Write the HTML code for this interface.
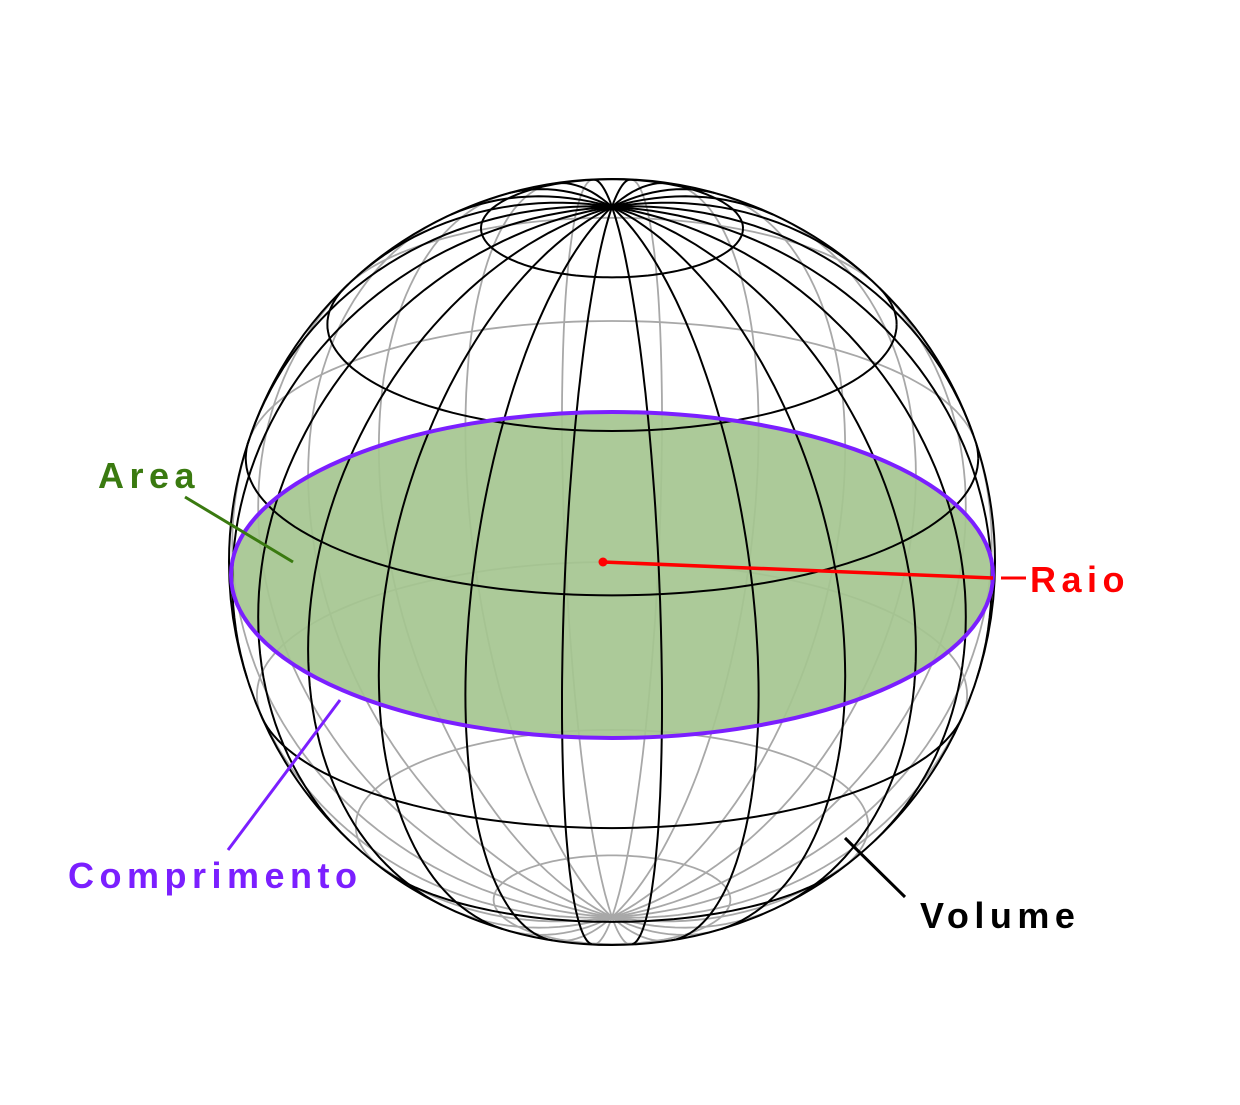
<!DOCTYPE html>
<html><head><meta charset="utf-8"><style>
html,body{margin:0;padding:0;background:#fff;}
svg text{font-family:"Liberation Sans",sans-serif;letter-spacing:5.5px;font-weight:bold;}
</style></head><body>
<svg id="s" width="1240" height="1100" viewBox="0 0 1240 1100">
<g id="back" fill="none" stroke="#a8a8a8" stroke-width="1.8"></g>
<ellipse cx="612" cy="575" rx="381" ry="163" fill="#a5c690" fill-opacity="0.92"/>
<g id="front" fill="none" stroke="#000" stroke-width="2"></g>
<ellipse cx="612" cy="575" rx="381" ry="163" fill="none" stroke="#7b1fff" stroke-width="4"/>
<line x1="603" y1="562" x2="993" y2="578" stroke="#f00" stroke-width="3.5"/>
<circle cx="603" cy="562" r="4.5" fill="#f00"/>
<line x1="1001" y1="578" x2="1026" y2="578" stroke="#f00" stroke-width="3"/>
<text x="1030" y="592" font-size="36" fill="#f00">Raio</text>
<line x1="185" y1="497" x2="293" y2="562" stroke="#3a7a10" stroke-width="3"/>
<text x="98" y="488" font-size="36" fill="#3a7a10">Area</text>
<line x1="228" y1="850" x2="340" y2="700" stroke="#7b1fff" stroke-width="3"/>
<text x="68" y="888" font-size="36" fill="#7b1fff">Comprimento</text>
<line x1="845" y1="838" x2="905" y2="897" stroke="#000" stroke-width="3"/>
<text x="920" y="928" font-size="36" fill="#000">Volume</text>
</svg>
<script>
const latitudes=[70,42,17,-22,-48,-72];
const longitudes=[7.5,22.5,37.5,52.5,67.5,82.5,97.5,112.5,127.5,142.5,157.5,172.5,187.5,202.5,217.5,232.5,247.5,262.5,277.5,292.5,307.5,322.5,337.5,352.5];
const CX=612, CY=562, R=383, T=22*Math.PI/180;
function proj(lat,lon){
  const a=lat*Math.PI/180,b=lon*Math.PI/180;
  const x=Math.cos(a)*Math.cos(b), y=Math.sin(a), z=Math.cos(a)*Math.sin(b);
  return {x:CX+R*x, y:CY-R*(y*Math.cos(T)-z*Math.sin(T)), d:y*Math.sin(T)+z*Math.cos(T)};
}
const front=document.getElementById('front'), back=document.getElementById('back');
function drawCurve(pts,name){
  let seg=[],vis=null;
  const flush=()=>{ if(seg.length>1){
    const p=document.createElementNS('http://www.w3.org/2000/svg','polyline');
    p.setAttribute('points',seg.map(q=>q.x.toFixed(1)+','+q.y.toFixed(1)).join(' '));
    
    
    (vis?front:back).appendChild(p);}
  };
  pts.forEach(q=>{const v=q.d>=0; if(vis!==null&&v!==vis){seg.push(q);flush();seg=[seg[seg.length-1]];} vis=v; seg.push(q);});
  flush();
}
latitudes.forEach(lat=>{const pts=[];for(let l=0;l<=360;l+=2)pts.push(proj(lat,l));drawCurve(pts,'parallel-line');});
longitudes.forEach(lon=>{const pts=[];for(let a=-90;a<=90;a+=2)pts.push(proj(a,lon));drawCurve(pts,'meridian-line');});
const o=document.createElementNS('http://www.w3.org/2000/svg','circle');
o.setAttribute('cx',CX);o.setAttribute('cy',CY);o.setAttribute('r',R);


front.appendChild(o);
</script>
</body></html>
